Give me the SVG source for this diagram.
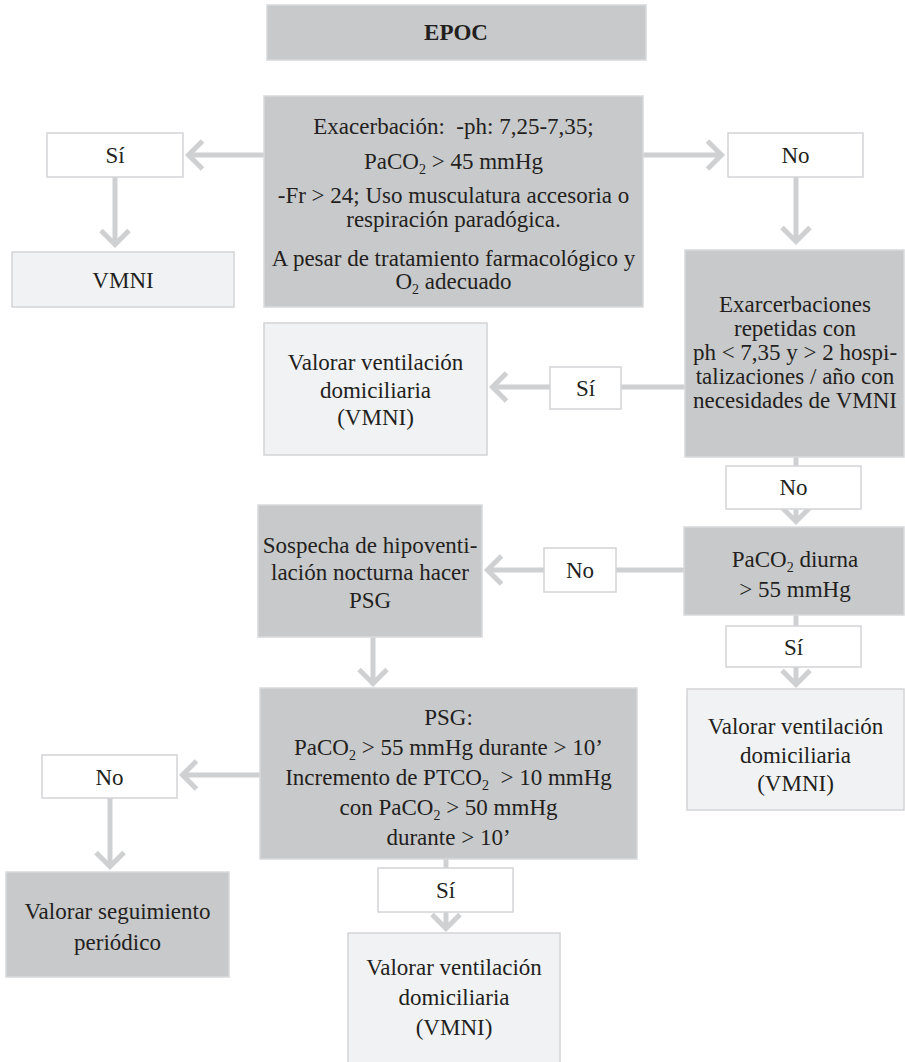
<svg xmlns="http://www.w3.org/2000/svg" width="905" height="1062" viewBox="0 0 905 1062">
<style>
.dark{fill:#c8c9cb;stroke:#d8d9db;stroke-width:1.5}
.light{fill:#f1f2f4;stroke:#d3d4d6;stroke-width:1.5}
.white{fill:#ffffff;stroke:#d3d4d6;stroke-width:1.5}
.t{font-family:"Liberation Serif","DejaVu Serif",serif;font-size:23px;fill:#231f20;text-anchor:middle;white-space:pre}
.b{font-weight:bold}
.sub{font-size:14px}
.c{stroke:#cfd0d2;stroke-width:5;fill:none}
.a{marker-end:url(#ah)}
</style>
<defs>
<marker id="ah" markerUnits="userSpaceOnUse" markerWidth="40" markerHeight="40" viewBox="-20 -20 40 40" refX="0" refY="0" orient="auto" overflow="visible">
<path d="M-14,-14 L0,0 L-14,14" fill="none" stroke="#cfd0d2" stroke-width="5"/>
</marker>
</defs>
<rect width="905" height="1062" fill="#ffffff"/>
<g id="connectors">
<path class="c a" d="M264,155 H188.5"/>
<path class="c a" d="M115,177 V244.5"/>
<path class="c a" d="M643,155 H721.5"/>
<path class="c a" d="M796,177 V241.5"/>
<path class="c" d="M685,387 H621"/>
<path class="c a" d="M550,387 H492.5"/>
<path class="c" d="M796,457 V466"/>
<path class="c a" d="M796,509 V521.5"/>
<path class="c" d="M684,570 H616"/>
<path class="c a" d="M544,570 H487.5"/>
<path class="c" d="M796,615 V626"/>
<path class="c a" d="M796,667 V684.5"/>
<path class="c a" d="M373,637 V683.5"/>
<path class="c a" d="M260,775 H182.5"/>
<path class="c a" d="M110,798 V866.5"/>
<path class="c" d="M446,859 V868"/>
<path class="c a" d="M446,912 V928.5"/>
</g>
<g id="epoc">
<rect class="dark" x="267" y="5" width="379" height="55"/>
<text class="t b" x="456" y="40">EPOC</text>
</g>
<g id="exacerbacion">
<rect class="dark" x="264" y="96" width="379" height="211"/>
<text class="t" x="453.5" y="134">Exacerbación:  -ph: 7,25-7,35;</text>
<text class="t" x="453.5" y="169">PaCO<tspan class="sub" dy="5">2</tspan><tspan dy="-5"> &gt; 45 mmHg</tspan></text>
<text class="t" x="453.5" y="203">-Fr &gt; 24; Uso musculatura accesoria o</text>
<text class="t" x="453.5" y="227">respiración paradógica.</text>
<text class="t" x="453.5" y="266">A pesar de tratamiento farmacológico y</text>
<text class="t" x="453.5" y="289">O<tspan class="sub" dy="5">2</tspan><tspan dy="-5"> adecuado</tspan></text>
</g>
<g id="si1">
<rect class="white" x="47" y="133" width="136" height="44"/>
<text class="t" x="115" y="163">Sí</text>
</g>
<g id="vmni">
<rect class="light" x="12" y="252" width="222" height="55"/>
<text class="t" x="123" y="288">VMNI</text>
</g>
<g id="no1">
<rect class="white" x="728" y="133" width="135" height="44"/>
<text class="t" x="795.5" y="163">No</text>
</g>
<g id="exarcerbaciones">
<rect class="dark" x="685" y="250" width="219" height="207"/>
<text class="t" x="795" y="312">Exarcerbaciones</text>
<text class="t" x="795" y="336">repetidas con</text>
<text class="t" x="795" y="360">ph &lt; 7,35 y &gt; 2 hospi-</text>
<text class="t" x="795" y="384">talizaciones / año con</text>
<text class="t" x="795" y="408">necesidades de VMNI</text>
</g>
<g id="si2">
<rect class="white" x="550" y="367" width="71" height="42"/>
<text class="t" x="585.5" y="396">Sí</text>
</g>
<g id="valorar1">
<rect class="light" x="264" y="323" width="223" height="132"/>
<text class="t" x="375.5" y="370">Valorar ventilación</text>
<text class="t" x="375.5" y="398">domiciliaria</text>
<text class="t" x="375.5" y="425">(VMNI)</text>
</g>
<g id="no2">
<rect class="white" x="726" y="466" width="135" height="43"/>
<text class="t" x="793.5" y="495">No</text>
</g>
<g id="paco2diurna">
<rect class="dark" x="684" y="527" width="220" height="88"/>
<text class="t" x="795" y="567">PaCO<tspan class="sub" dy="5">2</tspan><tspan dy="-5"> diurna</tspan></text>
<text class="t" x="795" y="597">&gt; 55 mmHg</text>
</g>
<g id="no3">
<rect class="white" x="544" y="548" width="72" height="44"/>
<text class="t" x="580" y="578">No</text>
</g>
<g id="sospecha">
<rect class="dark" x="258" y="505" width="224" height="132"/>
<text class="t" x="370" y="553">Sospecha de hipoventi-</text>
<text class="t" x="370" y="580">lación nocturna hacer</text>
<text class="t" x="370" y="608">PSG</text>
</g>
<g id="si3">
<rect class="white" x="726" y="626" width="135" height="41"/>
<text class="t" x="793.5" y="655">Sí</text>
</g>
<g id="valorar2">
<rect class="light" x="687" y="689" width="217" height="121"/>
<text class="t" x="795.5" y="734">Valorar ventilación</text>
<text class="t" x="795.5" y="763">domiciliaria</text>
<text class="t" x="795.5" y="791">(VMNI)</text>
</g>
<g id="psg">
<rect class="dark" x="260" y="688" width="377" height="171"/>
<text class="t" x="448.5" y="725">PSG:</text>
<text class="t" x="448.5" y="755">PaCO<tspan class="sub" dy="5">2</tspan><tspan dy="-5"> &gt; 55 mmHg durante &gt; 10’</tspan></text>
<text class="t" x="448.5" y="785">Incremento de PTCO<tspan class="sub" dy="5">2</tspan><tspan dy="-5">  &gt; 10 mmHg</tspan></text>
<text class="t" x="448.5" y="815">con PaCO<tspan class="sub" dy="5">2</tspan><tspan dy="-5"> &gt; 50 mmHg</tspan></text>
<text class="t" x="448.5" y="845">durante &gt; 10’</text>
</g>
<g id="no4">
<rect class="white" x="42" y="755" width="135" height="43"/>
<text class="t" x="109.5" y="785">No</text>
</g>
<g id="seguimiento">
<rect class="dark" x="6" y="872" width="223" height="105"/>
<text class="t" x="117.5" y="919">Valorar seguimiento</text>
<text class="t" x="117.5" y="950">periódico</text>
</g>
<g id="si4">
<rect class="white" x="378" y="868" width="135" height="44"/>
<text class="t" x="445.5" y="898">Sí</text>
</g>
<g id="valorar3">
<rect class="light" x="348" y="933" width="212" height="135"/>
<text class="t" x="454" y="975">Valorar ventilación</text>
<text class="t" x="454" y="1005">domiciliaria</text>
<text class="t" x="454" y="1035">(VMNI)</text>
</g>
</svg>
